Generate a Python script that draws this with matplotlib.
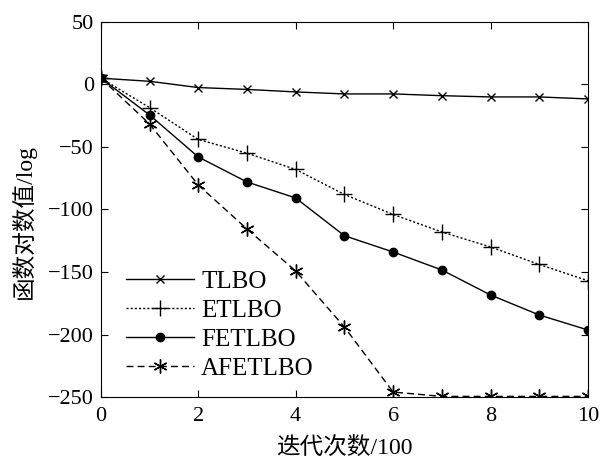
import matplotlib
matplotlib.use("Agg")
import matplotlib.pyplot as plt

plt.rcParams['font.family'] = ['Liberation Serif', 'Noto Sans CJK SC']
plt.rcParams['axes.unicode_minus'] = True

x = [0, 1, 2, 3, 4, 5, 6, 7, 8, 9, 10]
tlbo = [5, 2.5, -2.5, -4, -6, -7.6, -7.6, -9, -10, -10, -11.6]
etlbo = [5, -18.5, -44, -55, -68, -88, -104, -118, -130, -144, -157]
fetlbo = [5, -24.4, -58, -78, -90.8, -121, -134, -148.4, -168.4, -184.4, -196.4]
afetlbo = [5, -31.6, -80.4, -115.6, -149.2, -194, -246, -249.5, -249.5, -249.5, -249.5]

xticks = [0, 2, 4, 6, 8, 10]
yticks = [50, 0, -50, -100, -150, -200, -250]

fig = plt.figure(figsize=(6.0, 4.66), dpi=100)
ax = fig.add_axes([0.168, 0.148, 0.812, 0.805])

lw = 1.0
ax.plot(x, tlbo, color='black', lw=lw, ls='-', marker='x', ms=6, mew=1.0, label='TLBO')
ax.plot(x, etlbo, color='black', lw=lw, ls=(0, (1.5, 1.5)), marker='+', ms=11, mew=1.0, label='ETLBO')
ax.plot(x, fetlbo, color='black', lw=lw, ls='-', marker='o', ms=6, mew=1.0, label='FETLBO')
ax.plot(x, afetlbo, color='black', lw=lw, ls=(0, (5, 3)), marker=(6, 2, 0), ms=10, mew=1.0, label='AFETLBO')

ax.set_xlim(0, 10)
ax.set_ylim(-250, 50)
ax.set_xticks(xticks)
ax.set_yticks(yticks)
ax.tick_params(direction='in', top=True, right=True, length=5, width=0.8, labelsize=16)
ax.tick_params(axis='x', pad=7)
ax.tick_params(axis='y', pad=5)
for s in ax.spines.values():
    s.set_linewidth(0.8)

ax.set_xlabel('迭代次数/100', fontsize=17)
ax.xaxis.set_label_coords(0.5, -0.105)
ax.set_ylabel('函数对数值/log', fontsize=17)
ax.yaxis.set_label_coords(-0.133, 0.467)

leg = ax.legend(loc='lower left', bbox_to_anchor=(0.016, 0.0), frameon=False, fontsize=18,
                handlelength=2.7, handletextpad=0.3, labelspacing=0.26, borderaxespad=0.3)

fig.savefig('out.png', dpi=100)
